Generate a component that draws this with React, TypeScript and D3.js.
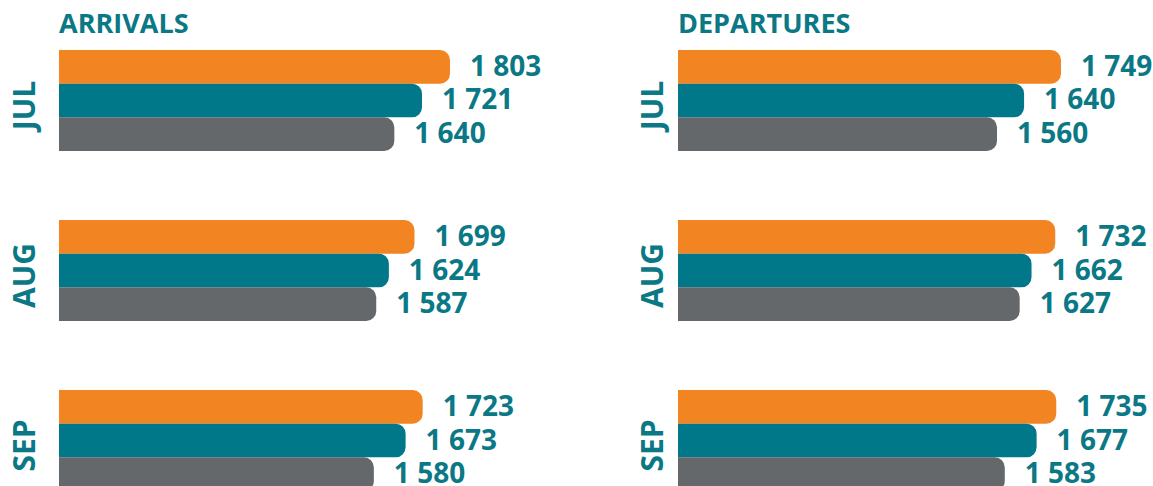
import React from "react";
import * as d3 from "d3";

const months = ["JUL", "AUG", "SEP"];
const seriesKeys = ["s1", "s2", "s3"];
const seriesColors = ["#F28522", "#00788A", "#65686B"];
const arrivals = [
  [1803, 1721, 1640],
  [1699, 1624, 1587],
  [1723, 1673, 1580],
];
const departures = [
  [1749, 1640, 1560],
  [1732, 1662, 1627],
  [1735, 1677, 1583],
];
const panelTitles = ["ARRIVALS", "DEPARTURES"];

const TEAL = "#0A7885";
const FONT = "'Open Sans', 'Noto Sans', sans-serif";

const fmt = (v: number) => {
  const s = String(v);
  return s.length > 3 ? s.slice(0, s.length - 3) + " " + s.slice(-3) : s;
};

function roundedRight(x0: number, y0: number, w: number, h: number, r: number) {
  const x1 = x0 + w;
  const y1 = y0 + h;
  return `M${x0},${y0}H${x1 - r}A${r},${r} 0 0 1 ${x1},${y0 + r}V${y1 - r}A${r},${r} 0 0 1 ${x1 - r},${y1}H${x0}Z`;
}

const panels = [
  { title: panelTitles[0], data: arrivals, x0: 59, labelX: 35, domain: [658, 1803], range: [0, 391] },
  { title: panelTitles[1], data: departures, x0: 678, labelX: 663, domain: [618, 1749], range: [0, 383] },
];

export default function App() {
  const W = 1153;
  const H = 486;
  const yMonth = d3
    .scaleBand<string>()
    .domain(months)
    .range([50, 491])
    .paddingInner(0.406)
    .paddingOuter(0)
    .align(0);
  const ySeries = d3.scaleBand<string>().domain(seriesKeys).range([0, yMonth.bandwidth()]);

  return (
    <svg
      width={W}
      height={H}
      style={{ position: "absolute", left: 0, top: 0, display: "block" }}
    >
      <rect width={W} height={H} fill="#fff" />
      {panels.map((p, pi) => {
        const x = d3.scaleLinear().domain(p.domain).range(p.range);
        return (
          <g key={pi}>
            <text
              x={p.x0}
              y={33}
              fill={TEAL}
              fontFamily={FONT}
              fontWeight={700}
              fontSize={27}
            >
              {p.title}
            </text>
            {months.map((m, mi) => {
              const gy = yMonth(m)!;
              const cy = gy + yMonth.bandwidth() / 2 + 5;
              return (
                <g key={m}>
                  <text
                    transform={`translate(${p.labelX},${cy}) rotate(-90)`}
                    textAnchor="middle"
                    fill={TEAL}
                    fontFamily={FONT}
                    fontWeight={700}
                    fontSize={30}
                  >
                    {m}
                  </text>
                  {seriesKeys.map((s, si) => {
                    const v = p.data[mi][si];
                    const by = gy + ySeries(s)!;
                    const bh = ySeries.bandwidth();
                    const w = x(v);
                    return (
                      <g key={s}>
                        <path d={roundedRight(p.x0, by, w, bh, 10)} fill={seriesColors[si]} />
                        <text
                          x={p.x0 + w + 20}
                          y={by + bh / 2 + 9}
                          fill={TEAL}
                          fontFamily={FONT}
                          fontWeight={700}
                          fontSize={28}
                        >
                          {fmt(v)}
                        </text>
                      </g>
                    );
                  })}
                </g>
              );
            })}
          </g>
        );
      })}
    </svg>
  );
}
